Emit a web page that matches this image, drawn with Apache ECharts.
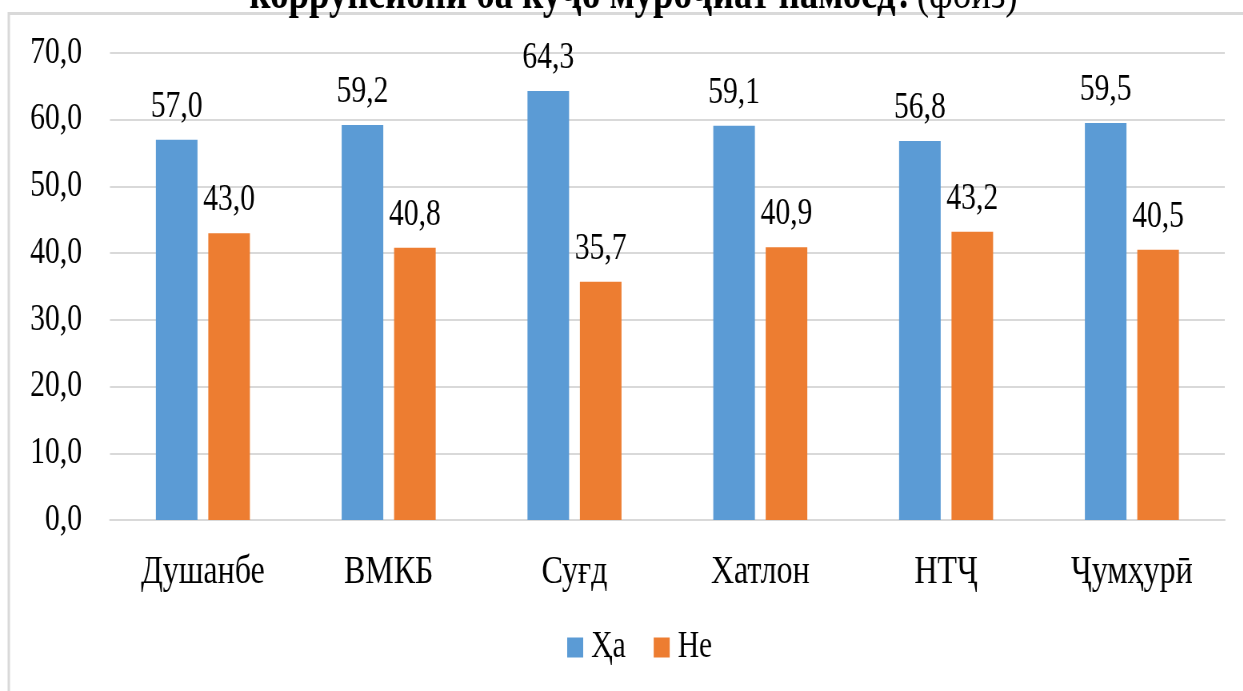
<!DOCTYPE html>
<html>
<head>
<meta charset="utf-8">
<title>Ҳа / Не</title>
<script src="https://cdn.jsdelivr.net/npm/echarts@6/dist/echarts.min.js"></script>
<style>
  html, body {
    margin: 0;
    padding: 0;
    background: #fff;
    overflow: hidden;
  }
  /* the source picture is squeezed horizontally, so the chart is drawn wider and scaled back */
  #chart {
    width: 1554px;
    height: 691px;
    transform: scaleX(0.8);
    transform-origin: 0 0;
  }
</style>
</head>
<body>
<div id="chart"></div>
<script>
const categories = ['Душанбе', 'ВМКБ', 'Суғд', 'Хатлон', 'НТҶ', 'Ҷумҳурӣ']
const haValues = [57.0, 59.2, 64.3, 59.1, 56.8, 59.5]
const neValues = [43.0, 40.8, 35.7, 40.9, 43.2, 40.5]
const yTicks = { min: 0, max: 70, interval: 10 }

const font = 'Liberation Serif'
const fmt = v => Number(v).toFixed(1).replace('.', ',')

const chart = echarts.init(document.getElementById('chart'))

const valueLabel = {
  show: true,
  position: 'top',
  distance: 14,
  fontFamily: font,
  fontSize: 37,
  color: '#000',
  formatter: p => fmt(p.value)
}

const option = {
  animation: false,
  textStyle: { fontFamily: font, color: '#000' },
  graphic: [
    {
      // frame of the chart box
      type: 'rect',
      shape: { x: 11, y: 13.5, width: 1700, height: 800 },
      style: { fill: 'none', stroke: '#d9d9d9', lineWidth: 3 },
      silent: true
    },
    {
      // the heading, cut off by the top edge
      type: 'text',
      x: 792,
      y: -4,
      style: {
        text: '{b|коррупсионӣ ба куҷо муроҷиат намоед?} {r|(фоиз)}',
        align: 'center',
        verticalAlign: 'middle',
        rich: {
          b: { fontFamily: font, fontSize: 46, fontWeight: 'bold', fill: '#000' },
          r: { fontFamily: font, fontSize: 46, fill: '#000' }
        }
      },
      silent: true
    }
  ],
  legend: {
    data: ['Ҳа', 'Не'],
    left: 704,
    top: 624,
    icon: 'rect',
    itemWidth: 20,
    itemHeight: 20,
    itemGap: 35,
    textStyle: { fontFamily: font, fontSize: 37, color: '#000', padding: [0, 0, 0, 5] }
  },
  grid: {
    left: 137.5,
    right: 23,
    top: 53,
    bottom: 171,
    containLabel: false
  },
  xAxis: {
    type: 'category',
    data: categories,
    axisTick: { show: false },
    axisLine: { lineStyle: { color: '#d9d9d9', width: 2 } },
    axisLabel: { fontFamily: font, fontSize: 40, color: '#000', margin: 32 }
  },
  yAxis: {
    type: 'value',
    min: yTicks.min,
    max: yTicks.max,
    interval: yTicks.interval,
    axisLine: { show: false },
    axisTick: { show: false },
    splitLine: { lineStyle: { color: '#d9d9d9', width: 2 } },
    axisLabel: {
      fontFamily: font,
      fontSize: 37,
      color: '#000',
      margin: 35,
      formatter: fmt
    }
  },
  series: [
    {
      name: 'Ҳа',
      type: 'bar',
      barWidth: 52,
      barGap: '26%',
      itemStyle: { color: '#5b9bd5' },
      label: valueLabel,
      data: haValues
    },
    {
      name: 'Не',
      type: 'bar',
      barWidth: 52,
      itemStyle: { color: '#ed7d31' },
      label: valueLabel,
      data: neValues
    }
  ]
}

chart.setOption(option)
</script>
</body>
</html>
